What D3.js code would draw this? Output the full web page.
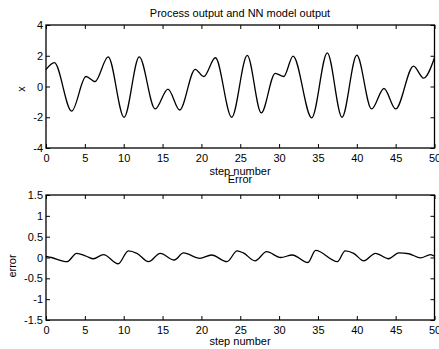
<!DOCTYPE html>
<html lang="en"><head>
<meta charset="utf-8">
<title>Process output and NN model output</title>
<script src="https://cdn.jsdelivr.net/npm/d3@7"></script>
<style>
  body { margin: 0; background: #fff; }
  svg text { font-family: "Liberation Sans", Arial, Helvetica, sans-serif; fill: #000; }
</style>
</head>
<body>
<div id="chart"></div>
<script>

// values (extrema and a few shoulders)
var stepX = [0, 1.07, 3.3, 5.15, 6.3, 8.0, 10.05, 12.0, 14.05, 15.7, 17.2, 19.2, 20.3, 21.8, 23.9,
             25.9, 27.7, 29.5, 30.6, 31.8, 34.2, 36.2, 38.1, 40.0, 41.9, 43.5, 45.0, 47.3, 48.6, 50];
var outputY = [1.1, 1.55, -1.6, 0.65, 0.32, 1.93, -2.0, 1.93, -1.46, -0.17, -1.53, 1.12, 0.65, 1.87, -2.0,
               2.02, -1.72, 0.86, 0.65, 1.98, -2.04, 2.19, -2.0, 2.04, -1.46, -0.13, -1.46, 1.33, 0.54, 1.87];

var errX = [0, 0.7, 2.7, 3.95, 5.2, 6.1, 7.4, 9.3, 10.6, 11.7, 13.2, 14.7, 16.5, 17.7, 19.8, 21.3, 23.3,
            24.6, 25.4, 26.9, 28.4, 30.2, 31.7, 33.7, 34.7, 37.5, 38.5, 39.6, 40.9, 42.4, 44.1, 45.4,
            46.7, 48.2, 49.5, 50];
var errY = [0.03, 0, -0.1, 0.1, 0.03, -0.03, 0.07, -0.15, 0.16, 0.1, -0.1, 0.1, -0.06, 0.11, -0.02, 0.06, -0.1,
            0.16, 0.11, -0.08, 0.14, 0, 0.06, -0.12, 0.17, -0.1, 0.16, 0.1, -0.08, 0.1, -0.03, 0.11,
            0.09, -0.01, 0.07, 0.03];

var xTicks = [0, 5, 10, 15, 20, 25, 30, 35, 40, 45, 50];
var topYTicks = [-4, -2, 0, 2, 4];
var bottomYTicks = [-1.5, -1, -0.5, 0, 0.5, 1, 1.5];

var width = 439;
var height = 349;

var svg = d3.select("#chart").append("svg")
        .attr("width", width)
        .attr("height", height);

function drawPanel(cfg) {
  var x = d3.scaleLinear().domain([0, 50]).range([46, 434.5]);
  var y = d3.scaleLinear().domain(cfg.yDomain).range([cfg.bottom, cfg.top]);
  var g = svg.append("g");

  // inward ticks on all four sides, matlab style
  var bottomAxis = d3.axisBottom(x).tickValues(xTicks).tickSizeInner(-4).tickSizeOuter(0).tickPadding(6)
        .tickFormat(d3.format("d"));
  var topAxis = d3.axisTop(x).tickValues(xTicks).tickSizeInner(-4).tickSizeOuter(0).tickFormat("");
  var leftAxis = d3.axisLeft(y).tickValues(cfg.yTicks).tickSizeInner(-4).tickSizeOuter(0).tickPadding(3)
        .tickFormat(function (d) { return String(d); });
  var rightAxis = d3.axisRight(y).tickValues(cfg.yTicks).tickSizeInner(-4).tickSizeOuter(0).tickFormat("");

  g.append("g").attr("transform", "translate(0," + cfg.bottom + ")").call(bottomAxis);
  g.append("g").attr("transform", "translate(0," + cfg.top + ")").call(topAxis);
  g.append("g").attr("transform", "translate(46,0)").call(leftAxis);
  g.append("g").attr("transform", "translate(434.5,0)").call(rightAxis);

  g.selectAll(".domain").remove();
  g.selectAll(".tick line").attr("stroke", "#000").attr("stroke-width", 1);
  g.selectAll(".tick text").attr("font-size", 11).attr("fill", "#000");

  g.append("rect")
    .attr("x", 46).attr("y", cfg.top)
    .attr("width", 434.5 - 46).attr("height", cfg.bottom - cfg.top)
    .attr("fill", "none").attr("stroke", "#000").attr("stroke-width", 1.3);

  var line = d3.line()
        .x(function (d) { return x(d[0]); })
        .y(function (d) { return y(d[1]); })
        .curve(d3.curveMonotoneX);

  g.append("path")
    .datum(d3.zip(cfg.xs, cfg.ys))
    .attr("d", line)
    .attr("fill", "none")
    .attr("stroke", "#000")
    .attr("stroke-width", 1.3);

  if (cfg.title) {
    g.append("text").attr("x", 240).attr("y", cfg.titleY)
      .attr("text-anchor", "middle").attr("font-size", 11).text(cfg.title);
  }
  g.append("text").attr("x", 240).attr("y", cfg.xLabelY)
    .attr("text-anchor", "middle").attr("font-size", 11).text("step number");
  g.append("text")
    .attr("transform", "translate(" + cfg.yLabelX + "," + cfg.yLabelY + ") rotate(-90)")
    .attr("text-anchor", "middle").attr("font-size", 11).text(cfg.yLabel);
}

drawPanel({
  top: 25, bottom: 148, yDomain: [-4, 4], yTicks: topYTicks,
  xs: stepX, ys: outputY,
  title: "Process output and NN model output", titleY: 17,
  xLabelY: 175, yLabel: "x", yLabelX: 25, yLabelY: 89
});

drawPanel({
  top: 195, bottom: 320, yDomain: [-1.5, 1.5], yTicks: bottomYTicks,
  xs: errX, ys: errY,
  title: "Error", titleY: 183,
  xLabelY: 345, yLabel: "error", yLabelX: 16, yLabelY: 266
});

</script>
</body></html>
